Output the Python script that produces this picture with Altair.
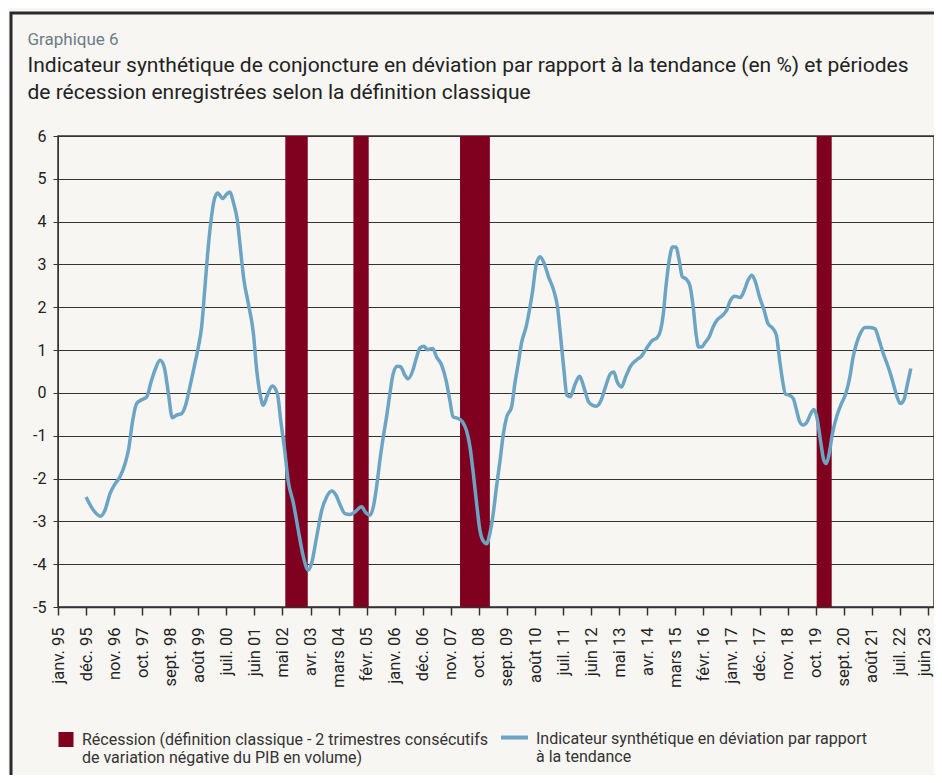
import json
import altair as alt
import pandas as pd

# ---- data (months counted from janv. 1995 = 0) ----
tick_labels = ["janv. 95", "déc. 95", "nov. 96", "oct. 97", "sept. 98", "août 99", "juil. 00",
               "juin 01", "mai 02", "avr. 03", "mars 04", "févr. 05", "janv. 06", "déc. 06",
               "nov. 07", "oct. 08", "sept. 09", "août 10", "juil. 11", "juin 12", "mai 13",
               "avr. 14", "mars 15", "févr. 16", "janv. 17", "déc. 17", "nov. 18", "oct. 19",
               "sept. 20", "août 21", "juil. 22", "juin 23"]
tick_months = [11 * i for i in range(len(tick_labels))]

months = [11.0, 13.9, 16.7, 18.4, 20.4, 22.3, 24.3, 26.3, 27.6, 29.3, 30.8, 32.8, 34.8, 36.5,
          38.0, 40.0, 41.6, 43.3, 44.8, 46.5, 48.5, 50.0, 51.7, 53.4, 55.0, 56.3, 57.6, 58.9,
          60.0, 61.2, 62.6, 64.5, 66.1, 67.4, 68.7, 70.3, 71.3, 72.9, 74.6, 76.6, 77.9, 79.2,
          80.5, 82.1, 84.0, 86.0, 87.3, 88.7, 90.3, 92.3, 94.2, 96.2, 98.1, 99.4, 101.4, 103.4,
          105.3, 107.3, 109.0, 110.5, 112.5, 114.5, 116.4, 119.0, 120.7, 122.3, 123.6, 124.9,
          126.2, 127.5, 128.8, 130.1, 131.4, 133.0, 134.3, 136.0, 137.3, 139.0, 140.6, 141.9,
          143.5, 144.8, 146.9, 148.4, 150.4, 152.1, 153.6, 154.9, 156.9, 158.6, 160.1, 161.5,
          162.8, 164.1, 165.4, 166.7, 168.0, 169.3, 170.6, 171.9, 173.3, 174.6, 175.9, 177.8,
          179.1, 180.4, 181.8, 183.5, 184.8, 186.1, 187.4, 189.0, 190.6, 192.3, 194.3, 195.8,
          196.9, 198.2, 199.5, 200.8, 202.8, 204.5, 206.1, 208.0, 209.6, 211.0, 212.9, 214.6,
          216.6, 217.9, 219.2, 220.9, 222.5, 224.4, 227.0, 228.6, 230.7, 233.1, 234.9, 236.2,
          237.3, 238.3, 239.6, 240.9, 242.2, 243.5, 244.7, 246.4, 247.7, 249.0, 250.1, 251.1,
          252.3, 253.6, 255.3, 256.8, 258.5, 260.5, 262.1, 263.6, 265.3, 267.5, 268.8, 270.5,
          272.0, 273.4, 275.0, 276.8, 278.3, 280.3, 281.6, 282.9, 284.0, 285.2, 286.6, 288.2,
          289.5, 290.8, 292.1, 293.6, 295.1, 296.4, 297.6, 298.9, 300.2, 301.2, 302.3, 303.6,
          305.2, 307.1, 308.8, 310.4, 311.7, 313.0, 314.6, 316.3, 318.0, 320.2, 321.9, 323.5,
          325.0, 326.3, 327.8, 328.9, 330.2, 331.6, 332.9, 334.3]
values = [-2.43, -2.74, -2.88, -2.74, -2.35, -2.13, -1.96, -1.65, -1.34, -0.64, -0.25, -0.16,
          -0.09, 0.26, 0.53, 0.76, 0.61, -0.02, -0.58, -0.52, -0.48, -0.29, 0.14, 0.61, 1.07,
          1.54, 2.47, 3.41, 4.03, 4.50, 4.67, 4.54, 4.64, 4.69, 4.46, 4.03, 3.49, 2.63, 2.09,
          1.39, 0.53, -0.02, -0.29, -0.05, 0.16, -0.02, -0.64, -1.26, -2.08, -2.58, -3.21,
          -3.83, -4.14, -3.98, -3.36, -2.74, -2.43, -2.29, -2.39, -2.60, -2.82, -2.84, -2.78,
          -2.66, -2.80, -2.86, -2.66, -2.19, -1.57, -1.03, -0.56, -0.02, 0.45, 0.62, 0.61,
          0.41, 0.33, 0.51, 0.84, 1.05, 1.09, 1.01, 1.04, 0.84, 0.65, 0.30, -0.17, -0.56,
          -0.60, -0.68, -0.87, -1.26, -1.88, -2.58, -3.21, -3.46, -3.52, -3.28, -2.82, -2.19,
          -1.57, -0.95, -0.56, -0.33, 0.22, 0.68, 1.19, 1.54, 1.93, 2.40, 2.98, 3.18, 3.02,
          2.71, 2.40, 2.01, 1.39, 0.61, -0.05, -0.09, 0.22, 0.39, 0.14, -0.21, -0.29, -0.31,
          -0.17, 0.14, 0.45, 0.49, 0.26, 0.14, 0.37, 0.62, 0.78, 0.85, 1.04, 1.23, 1.29, 1.46,
          1.85, 2.47, 3.10, 3.41, 3.41, 3.10, 2.72, 2.65, 2.51, 2.01, 1.39, 1.07, 1.07, 1.17,
          1.31, 1.54, 1.71, 1.81, 1.93, 2.16, 2.26, 2.23, 2.36, 2.63, 2.75, 2.59, 2.24, 1.93,
          1.62, 1.50, 1.35, 0.76, 0.30, -0.03, -0.05, -0.13, -0.40, -0.68, -0.75, -0.68, -0.48,
          -0.39, -0.60, -1.11, -1.57, -1.65, -1.42, -0.95, -0.56, -0.25, -0.02, 0.37, 0.84,
          1.15, 1.40, 1.53, 1.53, 1.50, 1.23, 0.92, 0.68, 0.45, 0.14, -0.09, -0.25, -0.16,
          0.18, 0.57]

recession_start = [89.1, 115.8, 157.6, 297.4]
recession_end = [97.9, 121.8, 169.3, 303.3]

REC_NAME = "Récession (définition classique - 2 trimestres consécutifs de variation négative du PIB en volume)"
REC_LINES = ["Récession (définition classique - 2 trimestres consécutifs",
             "de variation négative du PIB en volume)"]
IND_NAME = "Indicateur synthétique en déviation par rapport à la tendance"
IND_LINES = ["Indicateur synthétique en déviation par rapport", "à la tendance"]

title_text = "Graphique 6"
subtitle_lines = ["Indicateur synthétique de conjoncture en déviation par rapport à la tendance (en %)  et périodes",
                  "de récession enregistrées selon la définition classique"]

# ---- tables ----
line_df = pd.DataFrame({"month": months, "value": values, "serie": IND_NAME})
rec_df = pd.DataFrame({"start": recession_start, "end": recession_end, "serie": REC_NAME})

FONT = "Roboto"
label_expr = json.dumps(tick_labels, ensure_ascii=False) + "[round(datum.value / 11)]"
last_tick = tick_months[-1]

x_axis = alt.Axis(values=tick_months, labelExpr=label_expr, title=None, grid=False,
                  labelAngle=270, labelAlign="right", labelBaseline="middle",
                  labelOffset={"condition": {"test": f"datum.value >= {last_tick}", "value": -3},
                               "value": 0},
                  tickSize=8, tickWidth=1.5, tickColor="#333333", labelPadding=12,
                  labelFontSize=16.5, labelColor="#222222", domainColor="#333333",
                  domainWidth=1.5, labelFont=FONT)
x_scale = alt.Scale(domain=[0, 343.4], nice=False, zero=False)

frame = alt.Chart(alt.Data(values=[{"k": 1}])).mark_rect(
    filled=False, stroke="#2a2a2a", strokeWidth=3
).encode(x=alt.value(-47), x2=alt.value(1200), y=alt.value(-123), y2=alt.value(1200))

bars = alt.Chart(rec_df).mark_rect().encode(
    x=alt.X("start:Q", scale=x_scale, axis=x_axis),
    x2="end:Q",
    fill=alt.Fill("serie:N",
                  scale=alt.Scale(domain=[REC_NAME], range=["#80001f"]),
                  legend=alt.Legend(orient="none", legendX=0, legendY=588, title=None,
                                    symbolType="M-1,0L1,0L1,2L-1,2Z", symbolSize=225,
                                    symbolStrokeWidth=0,
                                    labelExpr=json.dumps(REC_LINES, ensure_ascii=False),
                                    labelFontSize=16, labelColor="#333333", labelFont=FONT,
                                    labelLimit=700, labelOffset=8, labelBaseline="top",
                                    padding=0)),
)

line = alt.Chart(line_df).mark_line(strokeWidth=3.5, interpolate="monotone").encode(
    x=alt.X("month:Q", scale=x_scale, axis=x_axis),
    y=alt.Y("value:Q", scale=alt.Scale(domain=[-5, 6], nice=False, zero=False),
            axis=alt.Axis(values=list(range(-5, 7)), title=None, grid=True,
                          labelExpr="'' + datum.value",
                          gridColor="#333333", gridWidth=1.2, tickSize=5,
                          tickColor="#333333", domainColor="#333333", labelPadding=7,
                          labelFontSize=16, labelColor="#222222", labelFont=FONT)),
    stroke=alt.Stroke("serie:N",
                      scale=alt.Scale(domain=[IND_NAME], range=["#6ca4c4"]),
                      legend=alt.Legend(orient="none", legendX=441, legendY=579, title=None,
                                        symbolType="M-1,0.52L1,0.52", symbolSize=729,
                                        symbolStrokeWidth=4,
                                        labelExpr=json.dumps(IND_LINES, ensure_ascii=False),
                                        labelFontSize=16, labelColor="#333333",
                                        labelFont=FONT, labelLimit=700, labelOffset=6,
                                        labelBaseline="top", padding=0)),
)

chart = alt.layer(frame, bars, line).properties(
    width=876,
    height=471,
    autosize=alt.AutoSizeParams(type="none"),
    padding={"left": 50, "top": 128, "right": 0, "bottom": 168},
    background="#f7f6f2",
    title=alt.TitleParams(text=title_text, subtitle=subtitle_lines, anchor="start",
                          dx=18, dy=92, offset=0, font=FONT, fontSize=17,
                          fontWeight="normal", color="#6f7c88", subtitleFont=FONT,
                          subtitleFontSize=21, subtitleColor="#222222",
                          subtitleLineHeight=27, subtitlePadding=6),
).configure_view(stroke="#333333", strokeWidth=1.5)

chart.save("out.html", embed_options={"renderer": "svg", "actions": False})
